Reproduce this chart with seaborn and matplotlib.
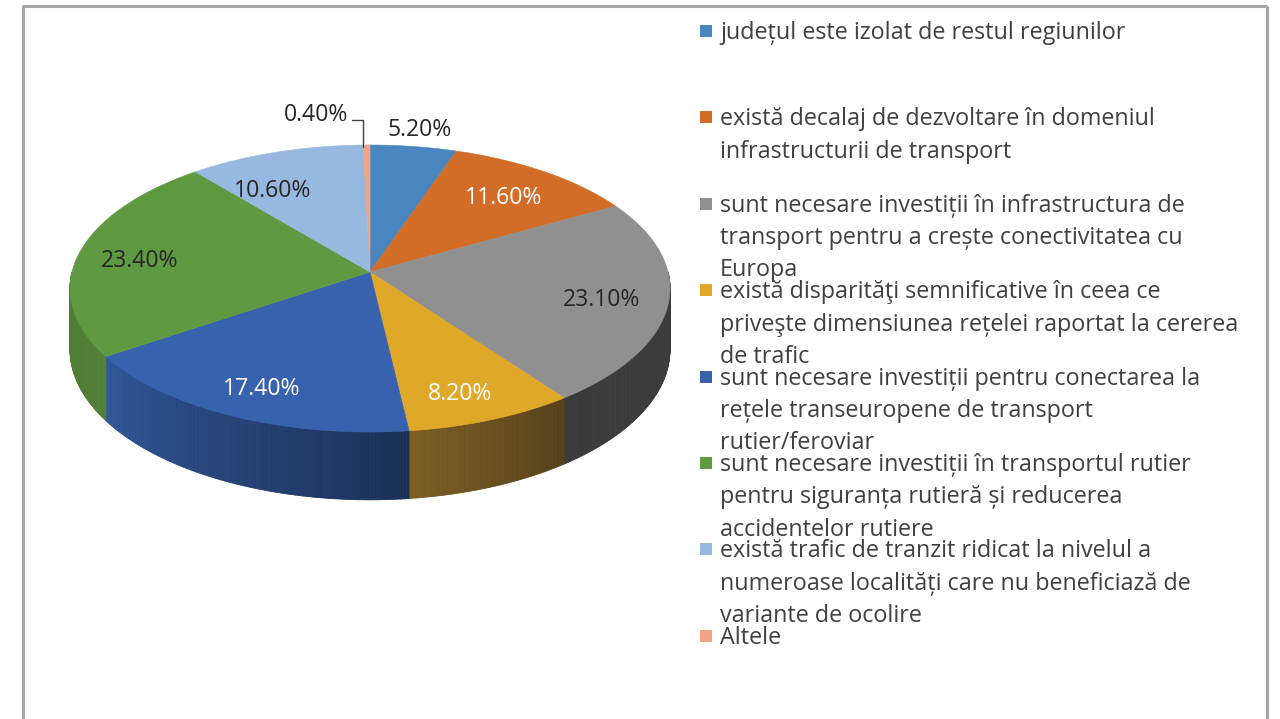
import numpy as np
import matplotlib
matplotlib.use("Agg")
import matplotlib.pyplot as plt
import matplotlib.colors as mcolors
from matplotlib.patches import Polygon
from matplotlib.lines import Line2D
from matplotlib.collections import PolyCollection
import seaborn as sns

# ---- data -------------------------------------------------------------
categories = [
    "județul este izolat de restul regiunilor",
    "există decalaj de dezvoltare în domeniul\ninfrastructurii de transport",
    "sunt necesare investiții în infrastructura de\ntransport pentru a crește conectivitatea cu\nEuropa",
    "există disparităţi semnificative în ceea ce\npriveşte dimensiunea rețelei raportat la cererea\nde trafic",
    "sunt necesare investiții pentru conectarea la\nrețele transeuropene de transport\nrutier/feroviar",
    "sunt necesare investiții în transportul rutier\npentru siguranța rutieră și reducerea\naccidentelor rutiere",
    "există trafic de tranzit ridicat la nivelul a\nnumeroase localități care nu beneficiază de\nvariante de ocolire",
    "Altele",
]
shares = [5.2, 11.6, 23.1, 8.2, 17.4, 23.4, 10.6, 0.4]

# ---- styles -----------------------------------------------------------
top_colors = ["#4a86c0", "#d26d28", "#909090", "#e0a828",
              "#3862ad", "#5f9a43", "#97b9df", "#f2a385"]
side_left = ["#2e5c8a", "#8a461a", "#3a3a3a", "#7d5f25",
             "#2f5698", "#4c7b34", "#5f7fa0", "#a06a58"]
side_right = ["#264c73", "#7a3e17", "#3e3e3e", "#55411a",
              "#1a3056", "#527f38", "#5a7898", "#986050"]
label_colors = ["#262626", "white", "#262626", "white",
                "white", "#262626", "#262626", "#262626"]
label_frac = [1.15, 0.75, 0.78, 0.78, 0.80, 0.79, 0.72, 1.0]
label_nudge = [(0, 0), (0, 3), (0, 4), (-3, 10), (0, 5), (0, 5), (-27, 8), (0, 0)]

sns.set_theme(style="white")
plt.rcParams["font.family"] = ["Open Sans", "DejaVu Sans"]

W, H = 1280, 719
fig = plt.figure(figsize=(W / 100, H / 100), dpi=100)
ax = fig.add_axes([0, 0, 1, 1])
ax.set_xlim(0, W)
ax.set_ylim(H, 0)
ax.axis("off")

# chart-area frame (bottom edge runs past the image)
frame_kw = dict(color="#a6a6a6", lw=2.2, solid_capstyle="butt")
ax.add_line(Line2D([23, 23], [6, H + 5], **frame_kw))
ax.add_line(Line2D([22, 1267], [6, 6], **frame_kw))
ax.add_line(Line2D([1267, 1267], [6, H + 5], **frame_kw))

# ---- 3D pie geometry ---------------------------------------------------
CX, CY = 370.0, 272.0
RX, RY = 298.0, 141.6
K = 0.115          # perspective strength (back smaller than front)
DEPTH = 60.0


def proj(theta_deg, frac=1.0, drop=0.0):
    t = np.radians(theta_deg)
    u, v = np.cos(t) * frac, np.sin(t) * frac
    s = 1.0 / (1.0 + K * v)
    return CX + RX * u * s, CY - RY * v * s + drop * s


total = float(np.sum(shares))
edges = 90.0 - np.concatenate([[0.0], np.cumsum(shares)]) / total * 360.0

# side walls of the front half
quads, qcolors = [], []
for i in range(len(shares)):
    a0, a1 = edges[i], edges[i + 1]          # a0 > a1 (clockwise)
    lo, hi = max(a1, -180.0), min(a0, 0.0)
    if hi <= lo:
        continue
    n = max(2, int((hi - lo) / 0.5))
    ts = np.linspace(hi, lo, n + 1)
    cl = np.array(mcolors.to_rgb(side_left[i]))
    cr = np.array(mcolors.to_rgb(side_right[i]))
    for j in range(n):
        t0, t1 = ts[j], ts[j + 1]
        p = [proj(t0), proj(t1), proj(t1, drop=DEPTH), proj(t0, drop=DEPTH)]
        quads.append(p)
        w = ((a0 - 0.5 * (t0 + t1)) / (a0 - a1))   # 0 at right end, 1 at left end
        qcolors.append(tuple(cr * (1 - w) + cl * w))
ax.add_collection(PolyCollection(quads, facecolors=qcolors, edgecolors=qcolors,
                                 linewidths=0.6, antialiased=True))

# top faces
for i in range(len(shares)):
    ts = np.linspace(edges[i], edges[i + 1], max(3, int(abs(edges[i] - edges[i + 1]) / 0.5)))
    pts = [(CX, CY)] + [proj(t) for t in ts]
    ax.add_patch(Polygon(pts, closed=True, facecolor=top_colors[i],
                         edgecolor=top_colors[i], lw=0.4))

# ---- data labels -------------------------------------------------------
LAB_FS = 16.6
for i, v in enumerate(shares):
    mid = 0.5 * (edges[i] + edges[i + 1])
    text = f"{v:.2f}%"
    if i == len(shares) - 1:
        # tiny slice: label pulled outside with a leader line
        tx, ty = proj(mid)
        ax.text(tx - 18, ty - 30, text, color=label_colors[i], fontsize=LAB_FS,
                ha="right", va="center")
        ax.add_line(Line2D([tx - 15, tx - 4, tx - 4], [ty - 25, ty - 25, ty + 2],
                           color="#404040", lw=1.0))
        continue
    x, y = proj(mid, frac=label_frac[i])
    dx, dy = label_nudge[i]
    ax.text(x + dx, y + dy, text, color=label_colors[i], fontsize=LAB_FS,
            ha="center", va="center")

# ---- legend ------------------------------------------------------------
LEG_X, LEG_Y0, ENTRY_STEP, LINE_STEP = 700, 31.0, 86.4, 32.3
for i, cat in enumerate(categories):
    yc = LEG_Y0 + ENTRY_STEP * i
    ax.add_patch(Polygon([(LEG_X, yc - 6), (LEG_X + 12, yc - 6),
                          (LEG_X + 12, yc + 6), (LEG_X, yc + 6)],
                         closed=True, facecolor=top_colors[i], edgecolor="none"))
    for k, line in enumerate(cat.split("\n")):
        ax.text(LEG_X + 20, yc + LINE_STEP * k + 8, line, color="#404040",
                fontsize=16.8, ha="left", va="baseline")

fig.savefig("out.png", dpi=100, facecolor="white")
